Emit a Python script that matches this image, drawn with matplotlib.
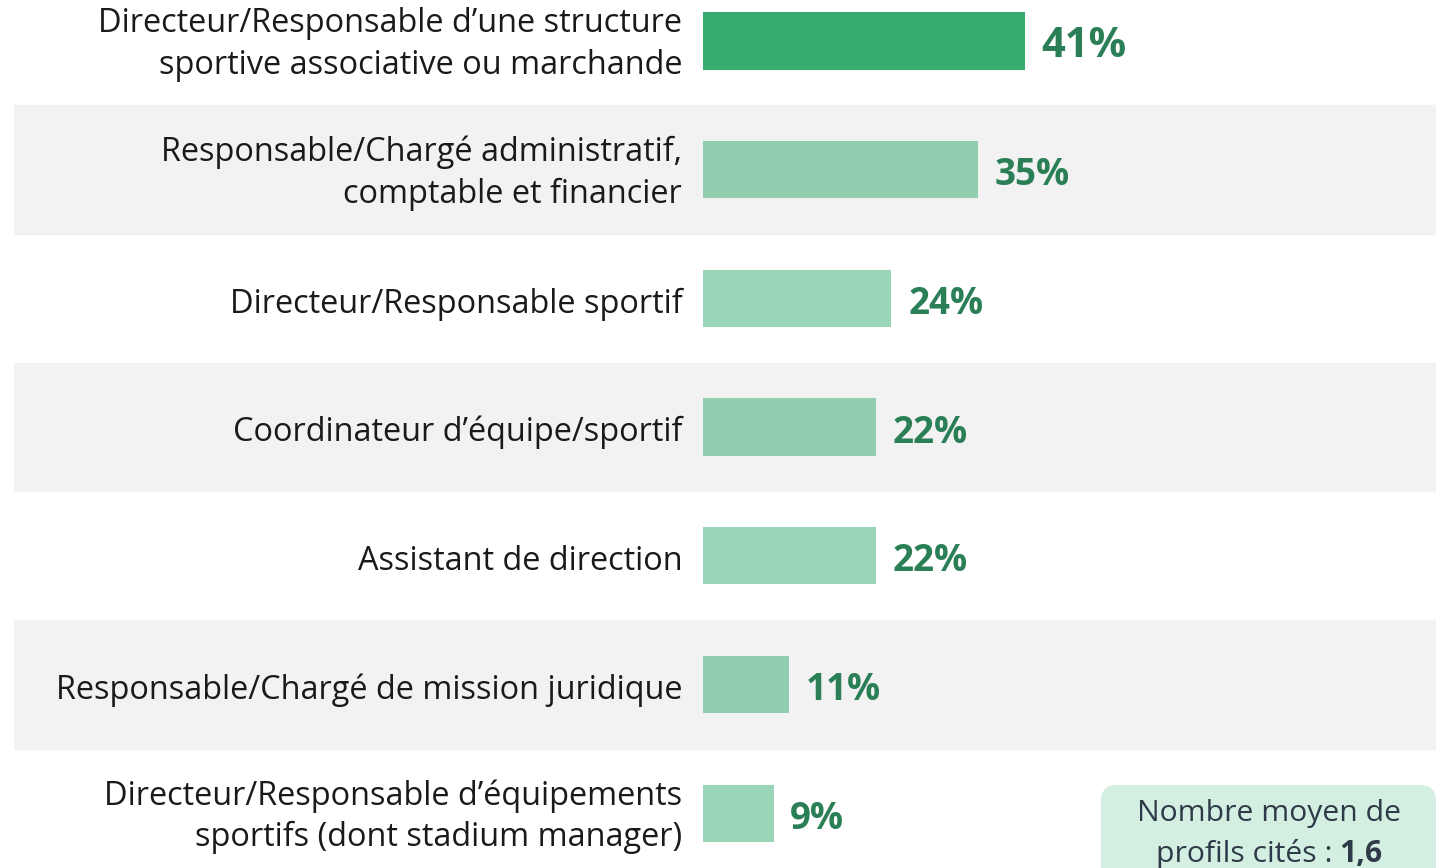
import matplotlib.pyplot as plt
from matplotlib.patches import FancyBboxPatch
from matplotlib.transforms import IdentityTransform

plt.rcParams['font.family'] = ['Open Sans', 'DejaVu Sans']

categories = [
    "Directeur/Responsable d’une structure\nsportive associative ou marchande",
    "Responsable/Chargé administratif,\ncomptable et financier",
    "Directeur/Responsable sportif",
    "Coordinateur d’équipe/sportif",
    "Assistant de direction",
    "Responsable/Chargé de mission juridique",
    "Directeur/Responsable d’équipements\nsportifs (dont stadium manager)",
]
values = [41, 35, 24, 22, 22, 11, 9]
avg_profiles = "1,6"

W, H = 1443, 868
fig = plt.figure(figsize=(W / 100, H / 100), dpi=100)

# axes spanning the band area; x=0 sits at pixel 703, 7.85 px per %
px_per = 7.85
left_px, right_px, zero_px = 14, 1436, 703
ax = fig.add_axes([left_px / W, 0, (right_px - left_px) / W, 1])
ax.set_xlim(-(zero_px - left_px) / px_per, (right_px - zero_px) / px_per)
pitch = 128.7
top_c = 41
ax.set_ylim((H - top_c) / pitch, -top_c / pitch)
ax.axis('off')

ys = list(range(len(categories)))
for y in ys:
    if y % 2 == 1:
        ax.axhspan(y - 0.5, y + 0.5, color='#F2F2F2', zorder=0)

colors = []
for i in ys:
    if i == 0:
        colors.append('#36AC6F')
    elif i % 2 == 1:
        colors.append('#93CDB0')
    else:
        colors.append('#9AD5B8')

ax.barh(ys, values, height=0.445, color=colors, zorder=2)

for y, v, lab in zip(ys, values, categories):
    dy = -2.5 if '\n' in lab else -4
    ax.annotate(lab, (0, y), xytext=(-15, dy), textcoords='offset points',
                ha='right', va='center', fontsize=23.4, color='#1A1A1A',
                linespacing=1.33)
    ax.annotate(f"{v}%", (v, y), xytext=(12, -4), textcoords='offset points',
                ha='left', va='center', fontsize=30 if y == 0 else 26.5,
                fontweight='bold', color='#2A7F57')

# average box bottom right
box = FancyBboxPatch((1101, -20), 335, H - 785 + 20,
                     boxstyle="round,pad=0,rounding_size=16",
                     transform=IdentityTransform(), facecolor='#D3EFE2',
                     edgecolor='none', zorder=3)
fig.patches.append(box)
fig.text(1269 / W, 1 - 814 / H, "Nombre moyen de", ha='center', va='center',
         fontsize=21.7, color='#2E3A48')
fig.text(1333 / W, 1 - 854 / H, "profils cités :", ha='right', va='center',
         fontsize=21.7, color='#2E3A48')
fig.text(1339 / W, 1 - 854 / H, avg_profiles, ha='left', va='center',
         fontsize=21.7, fontweight='bold', color='#2E3A48')

fig.savefig('out.png', dpi=100)
